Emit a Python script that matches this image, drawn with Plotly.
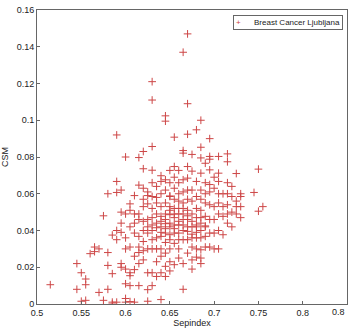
import plotly.graph_objects as go

# Sepindex columns (x) and the CSM values (y) read for each column
col_0515 = [0.0105]
col_0545 = [0.022, 0.008]
col_0550 = [0.017, 0.0015]
col_0555 = [0.0136, 0.0105, 0.002]
col_0560 = [0.0274]
col_0565 = [0.031, 0.0285]
col_0570 = [0.030, 0.0063]
col_0575 = [0.048, 0.002]
col_0580 = [0.060, 0.028, 0.021, 0.008]
col_0585 = [0.0375, 0.0165, 0.001, 0.0]
col_0590 = [0.092, 0.0667, 0.0607, 0.040, 0.035, 0.001]
col_0595 = [0.062, 0.050, 0.044, 0.039, 0.022, 0.020]
col_0600 = [0.080, 0.049, 0.036, 0.030, 0.019, 0.011, 0.003, 0.001]
col_0605 = [0.0545, 0.051, 0.042, 0.031, 0.017, 0.0154, 0.010, 0.0013]
col_0610 = [0.059, 0.049, 0.0386, 0.026, 0.0187, 0.001, 0.044]
col_0615 = [0.0797, 0.0647, 0.049, 0.046, 0.0368, 0.031, 0.022, 0.010, 0.028]
col_0620 = [0.083, 0.0736, 0.063, 0.057, 0.053, 0.040, 0.034, 0.029, 0.024, 0.045]
col_0625 = [0.061, 0.0545, 0.046, 0.0386, 0.030, 0.017, 0.0078, 0.0015, 0.042, 0.059]
col_0630 = [0.121, 0.111, 0.0857, 0.0728, 0.066, 0.0585, 0.052, 0.047, 0.040, 0.030, 0.017, 0.010, 0.043, 0.035]
col_0635 = [0.064, 0.055, 0.049, 0.044, 0.036, 0.030, 0.023, 0.015, 0.0415, 0.058]
col_0640 = [0.0698, 0.0667, 0.060, 0.053, 0.0477, 0.042, 0.0368, 0.030, 0.026, 0.017, 0.0024, 0.045, 0.039]
col_0645 = [0.1024, 0.0995, 0.0676, 0.062, 0.055, 0.049, 0.0437, 0.0386, 0.0335, 0.0277, 0.0205, 0.015, 0.041, 0.046]
col_0650 = [0.0727, 0.066, 0.0585, 0.0588, 0.053, 0.0486, 0.042, 0.0377, 0.030, 0.023, 0.018, 0.044, 0.035, 0.051]
col_0655 = [0.0908, 0.0748, 0.069, 0.063, 0.057, 0.052, 0.047, 0.043, 0.0386, 0.033, 0.0214, 0.049, 0.041]
col_0660 = [0.0727, 0.066, 0.060, 0.056, 0.049, 0.045, 0.0386, 0.030, 0.025, 0.043, 0.035, 0.052]
col_0665 = [0.137, 0.0835, 0.0821, 0.0676, 0.061, 0.055, 0.049, 0.046, 0.040, 0.035, 0.022, 0.008, 0.043, 0.052]
col_0670 = [0.147, 0.109, 0.0924, 0.0748, 0.0685, 0.062, 0.057, 0.051, 0.046, 0.0395, 0.035, 0.0277, 0.042, 0.048]
col_0675 = [0.0814, 0.0723, 0.062, 0.056, 0.049, 0.042, 0.036, 0.031, 0.024, 0.019, 0.045, 0.038]
col_0680 = [0.0948, 0.0667, 0.0585, 0.052, 0.047, 0.042, 0.036, 0.030, 0.0255, 0.043, 0.039]
col_0685 = [0.100, 0.0853, 0.0795, 0.0712, 0.062, 0.057, 0.051, 0.047, 0.040, 0.036, 0.0295, 0.025, 0.022, 0.044]
col_0690 = [0.0766, 0.066, 0.060, 0.055, 0.0477, 0.042, 0.0368, 0.031, 0.0425]
col_0695 = [0.090, 0.0803, 0.0788, 0.073, 0.065, 0.061, 0.054, 0.046, 0.0386, 0.031]
col_0700 = [0.069, 0.063, 0.053, 0.046, 0.0386, 0.030]
col_0705 = [0.0803, 0.0712, 0.0667, 0.060, 0.055, 0.049, 0.040, 0.030]
col_0710 = [0.060, 0.053, 0.0477, 0.0377]
col_0715 = [0.0817, 0.0774, 0.066, 0.060, 0.054, 0.049, 0.044]
col_0720 = [0.064, 0.0585, 0.050, 0.042]
col_0725 = [0.071, 0.056, 0.053, 0.049]
col_0730 = [0.060, 0.0585, 0.053, 0.047]
col_0745 = [0.0607]
col_0750 = [0.0734, 0.0505]
col_0755 = [0.053]

columns = {
    0.515: col_0515, 0.545: col_0545, 0.55: col_0550, 0.555: col_0555,
    0.56: col_0560, 0.565: col_0565, 0.57: col_0570, 0.575: col_0575,
    0.58: col_0580, 0.585: col_0585, 0.59: col_0590, 0.595: col_0595,
    0.6: col_0600, 0.605: col_0605, 0.61: col_0610, 0.615: col_0615,
    0.62: col_0620, 0.625: col_0625, 0.63: col_0630, 0.635: col_0635,
    0.64: col_0640, 0.645: col_0645, 0.65: col_0650, 0.655: col_0655,
    0.66: col_0660, 0.665: col_0665, 0.67: col_0670, 0.675: col_0675,
    0.68: col_0680, 0.685: col_0685, 0.69: col_0690, 0.695: col_0695,
    0.7: col_0700, 0.705: col_0705, 0.71: col_0710, 0.715: col_0715,
    0.72: col_0720, 0.725: col_0725, 0.73: col_0730, 0.745: col_0745,
    0.75: col_0750, 0.755: col_0755,
}

sepindex = []
csm = []
for xv, ys in columns.items():
    for yv in ys:
        sepindex.append(xv)
        csm.append(yv)

series_name = "Breast Cancer Ljubljana"
x_ticks = [0.5, 0.55, 0.6, 0.65, 0.7, 0.75, 0.8, 0.85]
x_ticklabels = ["0.5", "0.55", "0.6", "0.65", "0.7", "0.75", "0.8", ""]
y_ticks = [0, 0.02, 0.04, 0.06, 0.08, 0.1, 0.12, 0.14, 0.16]
y_ticklabels = ["0", "0.02", "0.04", "0.06", "0.08", "0.1", "0.12", "0.14", "0.16"]

red = "rgb(205,70,70)"
fig = go.Figure()
fig.add_trace(go.Scatter(
    x=sepindex, y=csm, mode="markers", name=series_name, showlegend=False,
    marker=dict(symbol="cross-thin-open", size=5.5, line=dict(color=red, width=1), color=red),
))

font = dict(family="Liberation Sans, Arial, sans-serif", size=9, color="#222")
axis_common = dict(showgrid=False, zeroline=False, showline=True, mirror=True,
                   linecolor="#666", linewidth=1, ticks="inside", ticklen=3,
                   tickcolor="#666", tickfont=font)
fig.update_layout(
    width=351, height=331,
    margin=dict(l=31, r=3, t=10, b=27),
    paper_bgcolor="white", plot_bgcolor="white",
    font=font,
    showlegend=False,
    xaxis=dict(range=[0.5, 0.85], tickvals=x_ticks, ticktext=x_ticklabels,
               title=dict(text="Sepindex", font=font, standoff=2), **axis_common),
    yaxis=dict(range=[0, 0.16], tickvals=y_ticks, ticktext=y_ticklabels,
               title=dict(text="CSM", font=font, standoff=7), **axis_common),
    annotations=[
        dict(x=1.0, y=0, xref="paper", yref="paper", text="0.8",
             showarrow=False, xanchor="right", yanchor="top", yshift=-1, font=font),
        dict(x=0.988, y=0.982, xref="paper", yref="paper",
             text=f'<span style="color:{red}">+</span>      {series_name}',
             showarrow=False, xanchor="right", yanchor="top",
             bgcolor="white", bordercolor="#666", borderwidth=1, borderpad=2,
             font=dict(family="Liberation Sans, Arial, sans-serif", size=8, color="#222")),
    ],
)
fig.write_html("out.html")
